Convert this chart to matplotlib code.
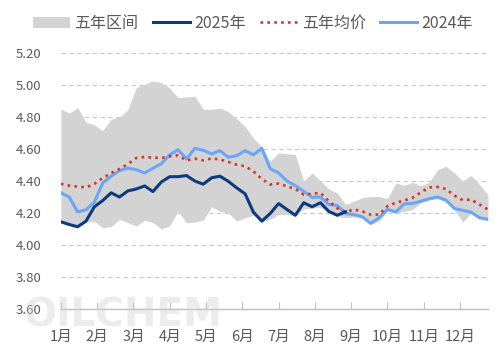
import matplotlib
matplotlib.use('Agg')
from matplotlib import pyplot as plt
from matplotlib.patches import Patch
from matplotlib.lines import Line2D
import numpy as np

plt.rcParams['font.family'] = ['Noto Sans CJK SC', 'DejaVu Sans']

# 月份标签
months = ['1月', '2月', '3月', '4月', '5月', '6月', '7月', '8月', '9月', '10月', '11月', '12月']

# 2025年（周度，截至9月初）
y2025 = [4.145, 4.128, 4.114, 4.149, 4.239, 4.278, 4.326, 4.30, 4.338, 4.35,
         4.369, 4.334, 4.394, 4.427, 4.427, 4.434, 4.40, 4.38, 4.42, 4.43,
         4.398, 4.357, 4.32, 4.205, 4.149, 4.197, 4.259, 4.222, 4.186, 4.264,
         4.239, 4.264, 4.21, 4.186, 4.207]

# 2024年
y2024 = [4.326, 4.30, 4.207, 4.22, 4.267, 4.388, 4.43, 4.465, 4.48, 4.471,
         4.45, 4.48, 4.508, 4.564, 4.596, 4.538, 4.604, 4.592, 4.569, 4.59,
         4.548, 4.558, 4.59, 4.564, 4.604, 4.477, 4.45, 4.40, 4.371, 4.336,
         4.298, 4.30, 4.253, 4.247, 4.197, 4.19, 4.176, 4.135, 4.17, 4.222,
         4.207, 4.257, 4.26, 4.274, 4.29, 4.30, 4.28, 4.228, 4.217, 4.205,
         4.17, 4.16]

# 五年均价
avg5 = [4.382, 4.371, 4.365, 4.36, 4.382, 4.419, 4.45, 4.475, 4.506, 4.544,
        4.55, 4.546, 4.544, 4.554, 4.56, 4.529, 4.54, 4.529, 4.541, 4.535,
        4.519, 4.502, 4.492, 4.46, 4.413, 4.378, 4.384, 4.367, 4.35, 4.315,
        4.32, 4.326, 4.274, 4.23, 4.207, 4.222, 4.21, 4.19, 4.19, 4.243,
        4.264, 4.278, 4.295, 4.33, 4.36, 4.363, 4.35, 4.309, 4.28, 4.284,
        4.253, 4.222]

# 五年区间 上沿 / 下沿
band_hi = [4.851, 4.824, 4.859, 4.768, 4.751, 4.714, 4.787, 4.80, 4.845, 4.984,
           5.005, 5.026, 5.015, 4.98, 4.922, 4.926, 4.93, 4.849, 4.847, 4.855,
           4.834, 4.789, 4.741, 4.668, 4.612, 4.523, 4.575, 4.57, 4.565, 4.40,
           4.45, 4.40, 4.35, 4.326, 4.253, 4.274, 4.295, 4.303, 4.303, 4.29,
           4.388, 4.373, 4.392, 4.37, 4.392, 4.471, 4.492, 4.45, 4.40, 4.434,
           4.378, 4.315]
band_lo = [4.14, 4.125, 4.11, 4.145, 4.149, 4.107, 4.115, 4.16, 4.14, 4.118,
           4.155, 4.14, 4.10, 4.12, 4.211, 4.139, 4.143, 4.155, 4.239, 4.21,
           4.20, 4.149, 4.17, 4.186, 4.145, 4.16, 4.19, 4.19, 4.18, 4.226,
           4.23, 4.235, 4.20, 4.18, 4.17, 4.175, 4.17, 4.13, 4.149, 4.211,
           4.20, 4.21, 4.222, 4.264, 4.28, 4.29, 4.27, 4.22, 4.143, 4.20,
           4.17, 4.155]

weeks = np.arange(len(avg5))
text_color = '#595959'

fig = plt.figure(figsize=(5.03, 3.57), dpi=100)
ax = fig.add_axes([0.121, 0.1345, 0.849, 0.717])

ax.fill_between(weeks, band_lo, band_hi, color='#d3d3d3', linewidth=0, zorder=1)
ax.plot(np.arange(len(y2025)), y2025, color='#0b3a7e', lw=2.2, zorder=4)
ax.plot(weeks, avg5, color='#d9342b', lw=1.9, linestyle=(0, (1, 1.6)), zorder=3)
ax.plot(weeks, y2024, color='#6aa6f6', lw=2.2, zorder=2.5)

ax.set_xlim(0, 51)
ax.set_ylim(3.6, 5.2)
ax.set_yticks(np.arange(3.6, 5.21, 0.2))
ax.set_yticklabels(['%.2f' % v for v in np.arange(3.6, 5.21, 0.2)])
ax.set_xticks([k * 52 / 12 for k in range(12)])
ax.set_xticklabels(months)

ax.set_axisbelow(True)
ax.grid(axis='y', color='#c8c8c8', linestyle=(0, (4, 3)), lw=0.8)
ax.grid(axis='x', visible=False)

for s in ['top', 'right', 'left']:
    ax.spines[s].set_visible(False)
ax.spines['bottom'].set_color('#bfbfbf')
ax.spines['bottom'].set_linewidth(1.0)

ax.tick_params(axis='y', length=0, pad=14, labelsize=9.5, labelcolor=text_color)
ax.tick_params(axis='x', direction='in', length=5, color='#bfbfbf', pad=15,
               labelsize=10.5, labelcolor=text_color)

# 图例
handles = [Patch(facecolor='#d3d3d3', edgecolor='none'),
           Line2D([], [], color='#0b3a7e', lw=2.2),
           Line2D([], [], color='#d9342b', lw=1.9, linestyle=(0, (1, 1.6))),
           Line2D([], [], color='#6aa6f6', lw=2.2)]
labels = ['五年区间', '2025年', '五年均价', '2024年']
leg = fig.legend(handles, labels, loc='center', bbox_to_anchor=(0.503, 0.935), ncol=4,
                 frameon=False, fontsize=11.5, handlelength=2.3, handletextpad=0.3,
                 columnspacing=0.9, labelcolor=text_color)

# 水印
fig.text(0.045, 0.085, 'OILCHEM', fontsize=28, fontweight='bold', color='#d0d0d0',
         alpha=0.4, family='DejaVu Sans', zorder=0)

fig.savefig('out.png', dpi=100)
